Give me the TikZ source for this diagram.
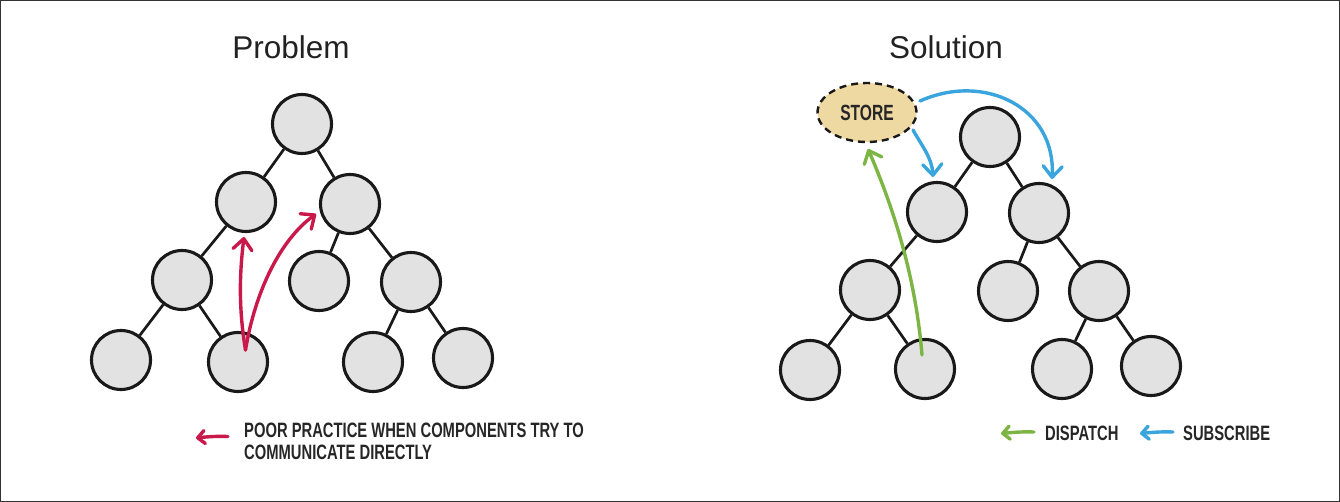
\documentclass[tikz,border=0pt]{standalone}
\usepackage{fontspec}
\setmainfont{Liberation Sans}
\newfontfamily\hand[FakeStretch=0.71]{Liberation Sans}
\usetikzlibrary{arrows.meta,shapes.geometric}
\definecolor{redc}{HTML}{C9184A}
\definecolor{bluec}{HTML}{3AA5DC}
\definecolor{greenc}{HTML}{7DB544}
\definecolor{nodefill}{HTML}{E2E2E2}
\definecolor{storefill}{HTML}{EFD9A3}
\definecolor{titlec}{HTML}{222222}
\begin{document}
\begin{tikzpicture}[x=1pt,y=-1pt,
  comp/.style={circle,draw=black!90,line width=3.1pt,fill=nodefill,minimum size=59pt,inner sep=0pt},
  tedge/.style={line width=2.7pt,black!90},
  title/.style={font=\fontsize{31.5}{36}\selectfont,text=titlec,anchor=base,inner sep=0pt},
  handtxt/.style={font=\hand\bfseries\fontsize{20.8}{22}\selectfont,text=black!85,anchor=base west,inner sep=0pt},
  tip/.style={-{Straight Barb[round,length=11pt,width=19pt]}},
  smalltip/.style={-{Straight Barb[round,length=7pt,width=13pt]}},
  arr/.style={line width=3.4pt,line cap=round},
]
\useasboundingbox (0,0) rectangle (1340,502);
\draw[line width=1.6pt,draw=black!80] (0,0) rectangle (1340,502);

% titles
\node[title] (tprob) at (291,59) {Problem};
\node[title] (tsol) at (946,59) {Solution};

% left tree
\node[comp] (pa) at (302,124) {};
\node[comp] (pb) at (246,202) {};
\node[comp] (pc) at (350,204) {};
\node[comp] (pd) at (182,280) {};
\node[comp] (pe) at (319,281) {};
\node[comp] (pf) at (411,282) {};
\node[comp] (pg) at (121,360) {};
\node[comp] (ph) at (238,362) {};
\node[comp] (pi) at (373,362) {};
\node[comp] (pj) at (463,358) {};
\foreach \a/\b in {pa/pb,pa/pc,pb/pd,pd/pg,pd/ph,pc/pe,pc/pf,pf/pi,pf/pj}
  \draw[tedge] (\a) -- (\b);

% red arrows
\coordinate (rs) at (245.5,350);
\coordinate (rt1) at (244,237);
\coordinate (rt2) at (316,214);
\draw[arr,redc,tip] (rs) .. controls (238,305) and (240,270) .. (rt1);
\draw[arr,redc,tip] (rs) .. controls (255,292) and (280,240) .. (rt2);

% right tree
\node[comp] (sa) at (990,137) {};
\node[comp] (sb) at (937,212) {};
\node[comp] (sc) at (1039,213) {};
\node[comp] (sd) at (870,290) {};
\node[comp] (se) at (1008,291) {};
\node[comp] (sf) at (1099,291) {};
\node[comp] (sg) at (810,370) {};
\node[comp] (sh) at (925,369) {};
\node[comp] (si) at (1062,369) {};
\node[comp] (sj) at (1151,366) {};
\foreach \a/\b in {sa/sb,sa/sc,sb/sd,sd/sg,sd/sh,sc/se,sc/sf,sf/si,sf/sj}
  \draw[tedge] (\a) -- (\b);

% store
\node[ellipse,draw=black!90,fill=storefill,line width=2.4pt,dash pattern=on 7pt off 5pt,
      minimum width=99pt,minimum height=59pt,inner sep=0pt,
      font=\hand\bfseries\fontsize{22}{24}\selectfont,text=black!85] (store) at (867,112.5) {STORE};

% blue arrows
\coordinate (bs1) at (920,101);
\coordinate (bt1) at (1052,179);
\coordinate (bs2) at (913,130);
\coordinate (bt2) at (933,177);
\draw[arr,bluec,tip] (bs1) .. controls (985,72) and (1056,108) .. (bt1);
\draw[arr,bluec,tip] (bs2) .. controls (922,146) and (932,158) .. (bt2);

% green arrow
\coordinate (gs) at (922,355);
\coordinate (gt) at (868,149);
\draw[arr,greenc,tip] (gs) .. controls (915,270) and (890,200) .. (gt);

% legend left
\coordinate (lr1) at (228,436.5);
\coordinate (lr2) at (196,438);
\draw[arr,redc,smalltip] (lr1) .. controls (215,436) and (205,437) .. (lr2);
\node[handtxt] (ltext1) at (244,437.3) {POOR PRACTICE WHEN COMPONENTS TRY TO};
\node[handtxt] (ltext2) at (244,459.3) {COMMUNICATE DIRECTLY};

% legend right
\coordinate (lg1) at (1034,432);
\coordinate (lg2) at (1001,433.5);
\draw[arr,greenc,smalltip] (lg1) .. controls (1022,431.5) and (1012,432.5) .. (lg2);
\node[handtxt] (ldisp) at (1045,440) {DISPATCH};
\coordinate (lb1) at (1173,432);
\coordinate (lb2) at (1140,433.5);
\draw[arr,bluec,smalltip] (lb1) .. controls (1161,431.5) and (1151,432.5) .. (lb2);
\node[handtxt] (lsub) at (1183,440) {SUBSCRIBE};
\end{tikzpicture}
\end{document}
